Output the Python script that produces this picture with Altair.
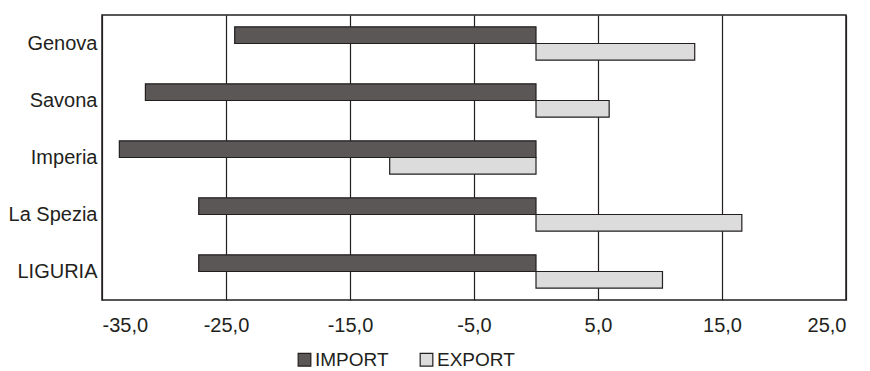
import altair as alt
import pandas as pd

categories = ["Genova", "Savona", "Imperia", "La Spezia", "LIGURIA"]
import_vals = [-24.3, -31.5, -33.6, -27.2, -27.2]
export_vals = [12.8, 5.9, -11.8, 16.6, 10.2]
series = ["IMPORT", "EXPORT"]
ticks = [-35, -25, -15, -5, 5, 15, 25]

rows = []
for c, i, e in zip(categories, import_vals, export_vals):
    rows.append({"cat": c, "serie": series[0], "v": i})
    rows.append({"cat": c, "serie": series[1], "v": e})
df = pd.DataFrame(rows)

FONT = "Liberation Sans"
INK = "#231f20"

chart = alt.Chart(df).mark_bar(stroke=INK, strokeWidth=1.2, opacity=1).encode(
    y=alt.Y("cat:N", sort=categories, title=None,
            scale=alt.Scale(paddingInner=0.414, paddingOuter=0.207),
            axis=alt.Axis(ticks=False, domain=False, labelFontSize=20, labelFont=FONT,
                          labelColor=INK, labelPadding=5, grid=False)),
    yOffset=alt.YOffset("serie:N", sort=series),
    x=alt.X("v:Q", title=None,
            scale=alt.Scale(domain=[-35, 25], nice=False, zero=False),
            axis=alt.Axis(values=ticks, labelExpr="datum.value + ',0'", ticks=False,
                          domain=False, grid=True, gridColor=INK, gridWidth=1.2,
                          gridOpacity=1, labelFontSize=20, labelFont=FONT,
                          labelColor=INK, labelPadding=15)),
    fill=alt.Fill("serie:N", sort=series,
                  scale=alt.Scale(domain=series, range=["#5b5757", "#dcdcdc"]),
                  legend=alt.Legend(title=None, orient="none", direction="horizontal",
                                    legendX=193, legendY=335, symbolType="square",
                                    symbolSize=160, symbolStrokeColor=INK,
                                    symbolStrokeWidth=1.2, labelFontSize=19,
                                    labelFont=FONT, labelColor=INK, labelOffset=1,
                                    columnPadding=28, padding=0)),
).properties(
    width=744, height=285,
    autosize=alt.AutoSizeParams(type="none"),
    padding={"left": 94, "top": 7, "right": 16, "bottom": 70},
).configure_view(stroke=INK, strokeWidth=1.5)

chart.save("out.html", embed_options={"renderer": "svg", "actions": False})
